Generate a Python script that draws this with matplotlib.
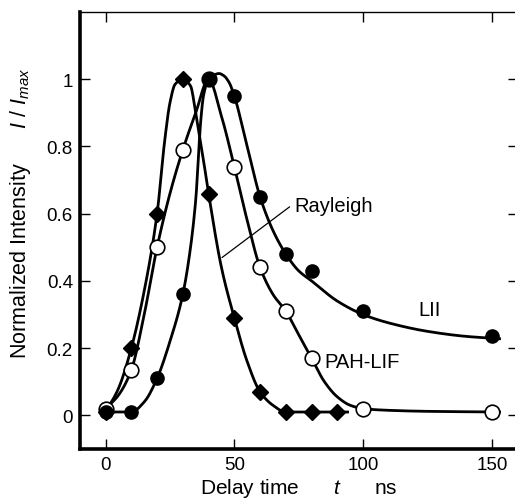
import numpy as np
import matplotlib
matplotlib.use("Agg")
import matplotlib.pyplot as plt

plt.rcParams['font.family'] = ['Liberation Sans', 'DejaVu Sans']
plt.rcParams['mathtext.fontset'] = 'custom'
plt.rcParams['mathtext.it'] = 'Liberation Sans:italic'
plt.rcParams['mathtext.rm'] = 'Liberation Sans'

# Measured points
t_ray = [0, 10, 20, 30, 40, 50, 60, 70, 80, 90]
i_ray = [0.01, 0.20, 0.60, 1.00, 0.66, 0.29, 0.07, 0.01, 0.01, 0.01]

t_pah = [0, 10, 20, 30, 40, 50, 60, 70, 80, 100, 150]
i_pah = [0.02, 0.135, 0.50, 0.79, 1.00, 0.74, 0.44, 0.31, 0.17, 0.02, 0.01]

t_lii = [0, 10, 20, 30, 40, 50, 60, 70, 80, 100, 150]
i_lii = [0.01, 0.01, 0.11, 0.36, 1.00, 0.95, 0.65, 0.48, 0.43, 0.31, 0.235]

# Guide curves (knots of the smooth fits)
fit_ray_t = [0, 5, 10, 15, 20, 23, 25, 27, 30, 33, 35, 38, 40, 45, 50, 55, 60, 65, 70, 80, 94]
fit_ray_i = [0.01, 0.08, 0.20, 0.37, 0.60, 0.82, 0.93, 0.985, 1.00, 0.98, 0.90, 0.76, 0.66, 0.44, 0.29, 0.16, 0.07, 0.03, 0.01, 0.01, 0.01]

fit_pah_t = [0, 5, 10, 15, 20, 25, 30, 35, 40, 45, 50, 55, 60, 65, 70, 75, 80, 85, 90, 95, 100, 110, 125, 153]
fit_pah_i = [0.02, 0.06, 0.135, 0.30, 0.50, 0.66, 0.79, 0.90, 1.00, 0.89, 0.74, 0.58, 0.44, 0.36, 0.31, 0.24, 0.17, 0.10, 0.055, 0.03, 0.02, 0.015, 0.012, 0.01]

fit_lii_t = [0, 10, 15, 20, 25, 30, 33, 35, 37, 38, 40, 42, 44, 46, 48, 50, 55, 60, 65, 70, 75, 80, 90, 100, 110, 125, 140, 153]
fit_lii_i = [0.01, 0.01, 0.04, 0.11, 0.22, 0.36, 0.50, 0.64, 0.88, 0.95, 1.00, 1.012, 1.017, 1.01, 0.99, 0.95, 0.80, 0.65, 0.55, 0.48, 0.43, 0.40, 0.34, 0.30, 0.275, 0.25, 0.235, 0.228]


def pchip(x, y, n=400):
    """Shape-preserving piecewise cubic through the knots."""
    x = np.asarray(x, float)
    y = np.asarray(y, float)
    h = np.diff(x)
    d = np.diff(y) / h
    m = np.zeros_like(y)
    for k in range(1, len(x) - 1):
        if d[k - 1] * d[k] > 0:
            w1 = 2 * h[k] + h[k - 1]
            w2 = h[k] + 2 * h[k - 1]
            m[k] = (w1 + w2) / (w1 / d[k - 1] + w2 / d[k])
    m[0] = d[0]
    m[-1] = d[-1]
    xs = np.linspace(x[0], x[-1], n)
    idx = np.clip(np.searchsorted(x, xs) - 1, 0, len(x) - 2)
    hh = h[idx]
    s = (xs - x[idx]) / hh
    h00 = 2 * s**3 - 3 * s**2 + 1
    h10 = s**3 - 2 * s**2 + s
    h01 = -2 * s**3 + 3 * s**2
    h11 = s**3 - s**2
    ys = h00 * y[idx] + h10 * hh * m[idx] + h01 * y[idx + 1] + h11 * hh * m[idx + 1]
    return xs, ys


fig = plt.figure(figsize=(5.15, 5.02), dpi=100)
ax = fig.add_axes([0.155, 0.1036, 0.85, 0.8705])

lw = 2.0
for ft, fi in [(fit_ray_t, fit_ray_i), (fit_pah_t, fit_pah_i), (fit_lii_t, fit_lii_i)]:
    xs, ys = pchip(ft, fi)
    ax.plot(xs, ys, color='black', lw=lw, zorder=2)

ax.plot(t_ray, i_ray, linestyle='none', marker='D', markersize=8.5,
        color='black', zorder=3)
ax.plot(t_pah, i_pah, linestyle='none', marker='o', markersize=10.5,
        markerfacecolor='white', markeredgecolor='black', markeredgewidth=1.2, zorder=4)
ax.plot(t_lii, i_lii, linestyle='none', marker='o', markersize=9.5,
        color='black', zorder=5)

# Labels on the curves
ax.plot([45.3, 71.4], [0.47, 0.62], color='black', lw=0.9, zorder=2)
ax.text(73.5, 0.625, 'Rayleigh', fontsize=14.5, ha='left', va='center')
ax.text(126, 0.315, 'LII', fontsize=14.5, ha='center', va='center')
ax.text(85, 0.16, 'PAH-LIF', fontsize=14.5, ha='left', va='center')

ax.set_xlim(-10, 160)
ax.set_ylim(-0.1, 1.2)
ax.set_xticks([0, 50, 100, 150])
ax.set_yticks([0, 0.2, 0.4, 0.6, 0.8, 1.0])
ax.set_yticklabels(['0', '0.2', '0.4', '0.6', '0.8', '1'])
ax.tick_params(direction='in', length=7, width=1, labelsize=13.5,
               top=True, right=True, pad=5)

ax.spines['left'].set_linewidth(2.6)
ax.spines['bottom'].set_linewidth(2.6)
ax.spines['top'].set_linewidth(1.0)
ax.spines['right'].set_visible(False)

ax.set_xlabel('Delay time      $t$      ns', fontsize=15, labelpad=2)
fig.text(21 / 515, 1 - 213 / 502, 'Normalized Intensity      $I$ / $I_{max}$',
         fontsize=15.5, rotation=90, ha='center', va='center')

fig.savefig('out.png', dpi=100)
